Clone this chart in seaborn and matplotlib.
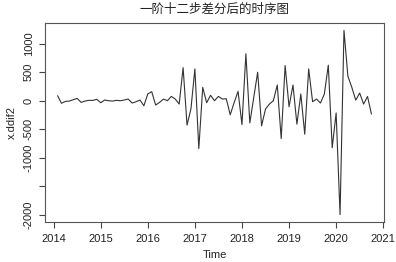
import numpy as np
import pandas as pd
import matplotlib
matplotlib.use("Agg")
import matplotlib.pyplot as plt
import seaborn as sns

# monthly series starting Feb 2014
start_year = 2014
start_month = 2
values = [88, -45, -12, -6, 18, 41, -29, -6, 6, 6, 24, -35,
          12, 0, -6, 6, 0, 12, 30, -41, -18, 12, -88, 120,
          159, -76, -29, 29, 0, 76, 29, -59, 580, -429, -140, 559,
          -840, 235, -35, 95, 0, 76, 29, 35, -247, -35, 165, -420,
          824, -390, 55, 500, -441, -147, -59, 0, 276, -665, 618, -106,
          276, -412, 118, -588, 559, -18, 29, -41, 118, 625, -824, -215,
          -2000, 1235, 430, 235, 10, 135, -59, 74, -235]
xticks = [2014, 2015, 2016, 2017, 2018, 2019, 2020, 2021]
yticks = [-2000, -1500, -1000, -500, 0, 500, 1000]
ytick_labels = ["-2000", "", "-1000", "-500", "0", "500", "1000"]
title = "一阶十二步差分后的时序图"
xlabel = "Time"
ylabel = "x.ddif2"

time = [start_year + (start_month - 1 + i) / 12 for i in range(len(values))]
df = pd.DataFrame({"Time": time, "x.ddif2": values})

sns.set_style("white")
plt.rcParams['font.family'] = ['Liberation Sans', 'Noto Sans CJK SC', 'DejaVu Sans']

fig = plt.figure(figsize=(3.96, 2.62), dpi=100)
ax = fig.add_axes([45/396, 1 - 222/262, (384 - 45)/396, (222 - 23)/262])
sns.lineplot(data=df, x="Time", y="x.ddif2", ax=ax, color="#333333", linewidth=0.8)

tmin, tmax = min(time), max(time)
r = tmax - tmin
ax.set_xlim(tmin - 0.04 * r, tmax + 0.04 * r)
vmin, vmax = min(values), max(values)
rv = vmax - vmin
ax.set_ylim(vmin - 0.04 * rv, vmax + 0.04 * rv)

ax.set_xticks(xticks)
ax.set_xticklabels([str(t) for t in xticks], fontsize=8, color="#222222")
ax.set_yticks(yticks)
ax.set_yticklabels(ytick_labels, fontsize=8, rotation=90, va="center", color="#222222")
ax.tick_params(axis="x", direction="out", length=4, width=0.8, color="#444444",
               bottom=True, pad=5)
ax.tick_params(axis="y", direction="out", length=4, width=0.8, color="#444444",
               left=True, pad=4)
for s in ax.spines.values():
    s.set_color("#555555")
    s.set_linewidth(0.8)

ax.set_xlabel(xlabel, fontsize=8, labelpad=4, color="#222222")
ax.set_ylabel(ylabel, fontsize=8, labelpad=5, color="#222222")
ax.set_title(title, fontsize=9, fontweight="normal", pad=7,
             family=['Noto Sans CJK SC', 'DejaVu Sans'], color="#222222")

fig.savefig("out.png", dpi=100)
